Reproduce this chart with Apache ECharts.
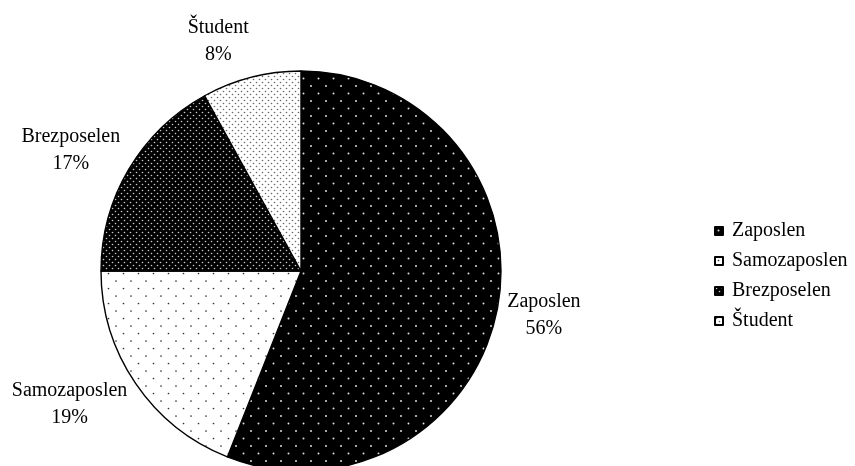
<!DOCTYPE html>
<html>
<head>
<meta charset="utf-8">
<script src="https://cdn.jsdelivr.net/npm/echarts@6/dist/echarts.min.js"></script>
<style>
  html, body { margin: 0; padding: 0; background: #fff; }
  #chart { width: 855px; height: 466px; }
</style>
</head>
<body>
<div id="chart"></div>
<script>
// Employment status shares
const categories = ['Zaposlen', 'Samozaposlen', 'Brezposelen', 'Študent'];
const shares = [56, 19, 17, 8];

// Dot-pattern fills drawn on small tiles
function dotTile(size, bg, dot, dots, r) {
  const c = document.createElement('canvas');
  c.width = size; c.height = size;
  const g = c.getContext('2d');
  g.fillStyle = bg;
  g.fillRect(0, 0, size, size);
  g.fillStyle = dot;
  dots.forEach(function (p) {
    g.beginPath();
    g.arc(p[0], p[1], r, 0, Math.PI * 2);
    g.fill();
  });
  return c;
}
const fills = [
  dotTile(15, '#000', '#ddd', [[3.5, 3.5], [11, 11]], 1.0),
  dotTile(15, '#fff', '#333', [[3.5, 3.5], [11, 11]], 0.85),
  dotTile(6, '#000', '#ccc', [[1.5, 1.5], [4.5, 4.5]], 0.8),
  dotTile(6, '#fff', '#666', [[1.5, 1.5], [4.5, 4.5]], 0.8)
];

const CX = 301, CY = 271, R = 200;
const total = shares.reduce(function (a, b) { return a + b; }, 0);

function midAngle(i) {
  let acc = 0;
  for (let k = 0; k < i; k++) acc += shares[k];
  return (acc + shares[i] / 2) / total * Math.PI * 2;
}

const chart = echarts.init(document.getElementById('chart'), null, { renderer: 'canvas' });
chart.setOption({
  animation: false,
  backgroundColor: '#fff',
  textStyle: { fontFamily: 'Liberation Serif', color: '#000' },
  legend: {
    orient: 'vertical',
    left: 709,
    top: 216,
    itemWidth: 8,
    itemHeight: 8,
    itemGap: 10,
    icon: 'rect',
    textStyle: {
      fontFamily: 'Liberation Serif',
      fontSize: 20,
      lineHeight: 20,
      color: '#000',
      padding: [0, 0, 0, 4]
    },
    data: categories
  },
  series: [{
    type: 'pie',
    center: [CX, CY],
    radius: R,
    startAngle: 90,
    clockwise: true,
    avoidLabelOverlap: false,
    itemStyle: { borderColor: '#000', borderWidth: 1.4 },
    label: {
      show: true,
      position: 'outside',
      formatter: '{b}\n{d}%',
      fontFamily: 'Liberation Serif',
      fontSize: 20,
      lineHeight: 27,
      color: '#000',
      align: 'center'
    },
    labelLine: { show: false },
    // Labels sit just outside the rim, pushed out by their own box size
    labelLayout: function (p) {
      const a = midAngle(p.dataIndex);
      const dx = Math.sin(a), dy = -Math.cos(a);
      const w = p.labelRect.width / 2, h = p.labelRect.height / 2;
      const px = CX + dx * (R + 10), py = CY + dy * (R + 10);
      return {
        x: px + Math.sign(dx) * w,
        y: py + dy * h,
        align: 'center',
        verticalAlign: 'middle'
      };
    },
    data: categories.map(function (name, i) {
      return {
        name: name,
        value: shares[i],
        itemStyle: { color: { image: fills[i], repeat: 'repeat' } }
      };
    })
  }]
});
</script>
</body>
</html>
